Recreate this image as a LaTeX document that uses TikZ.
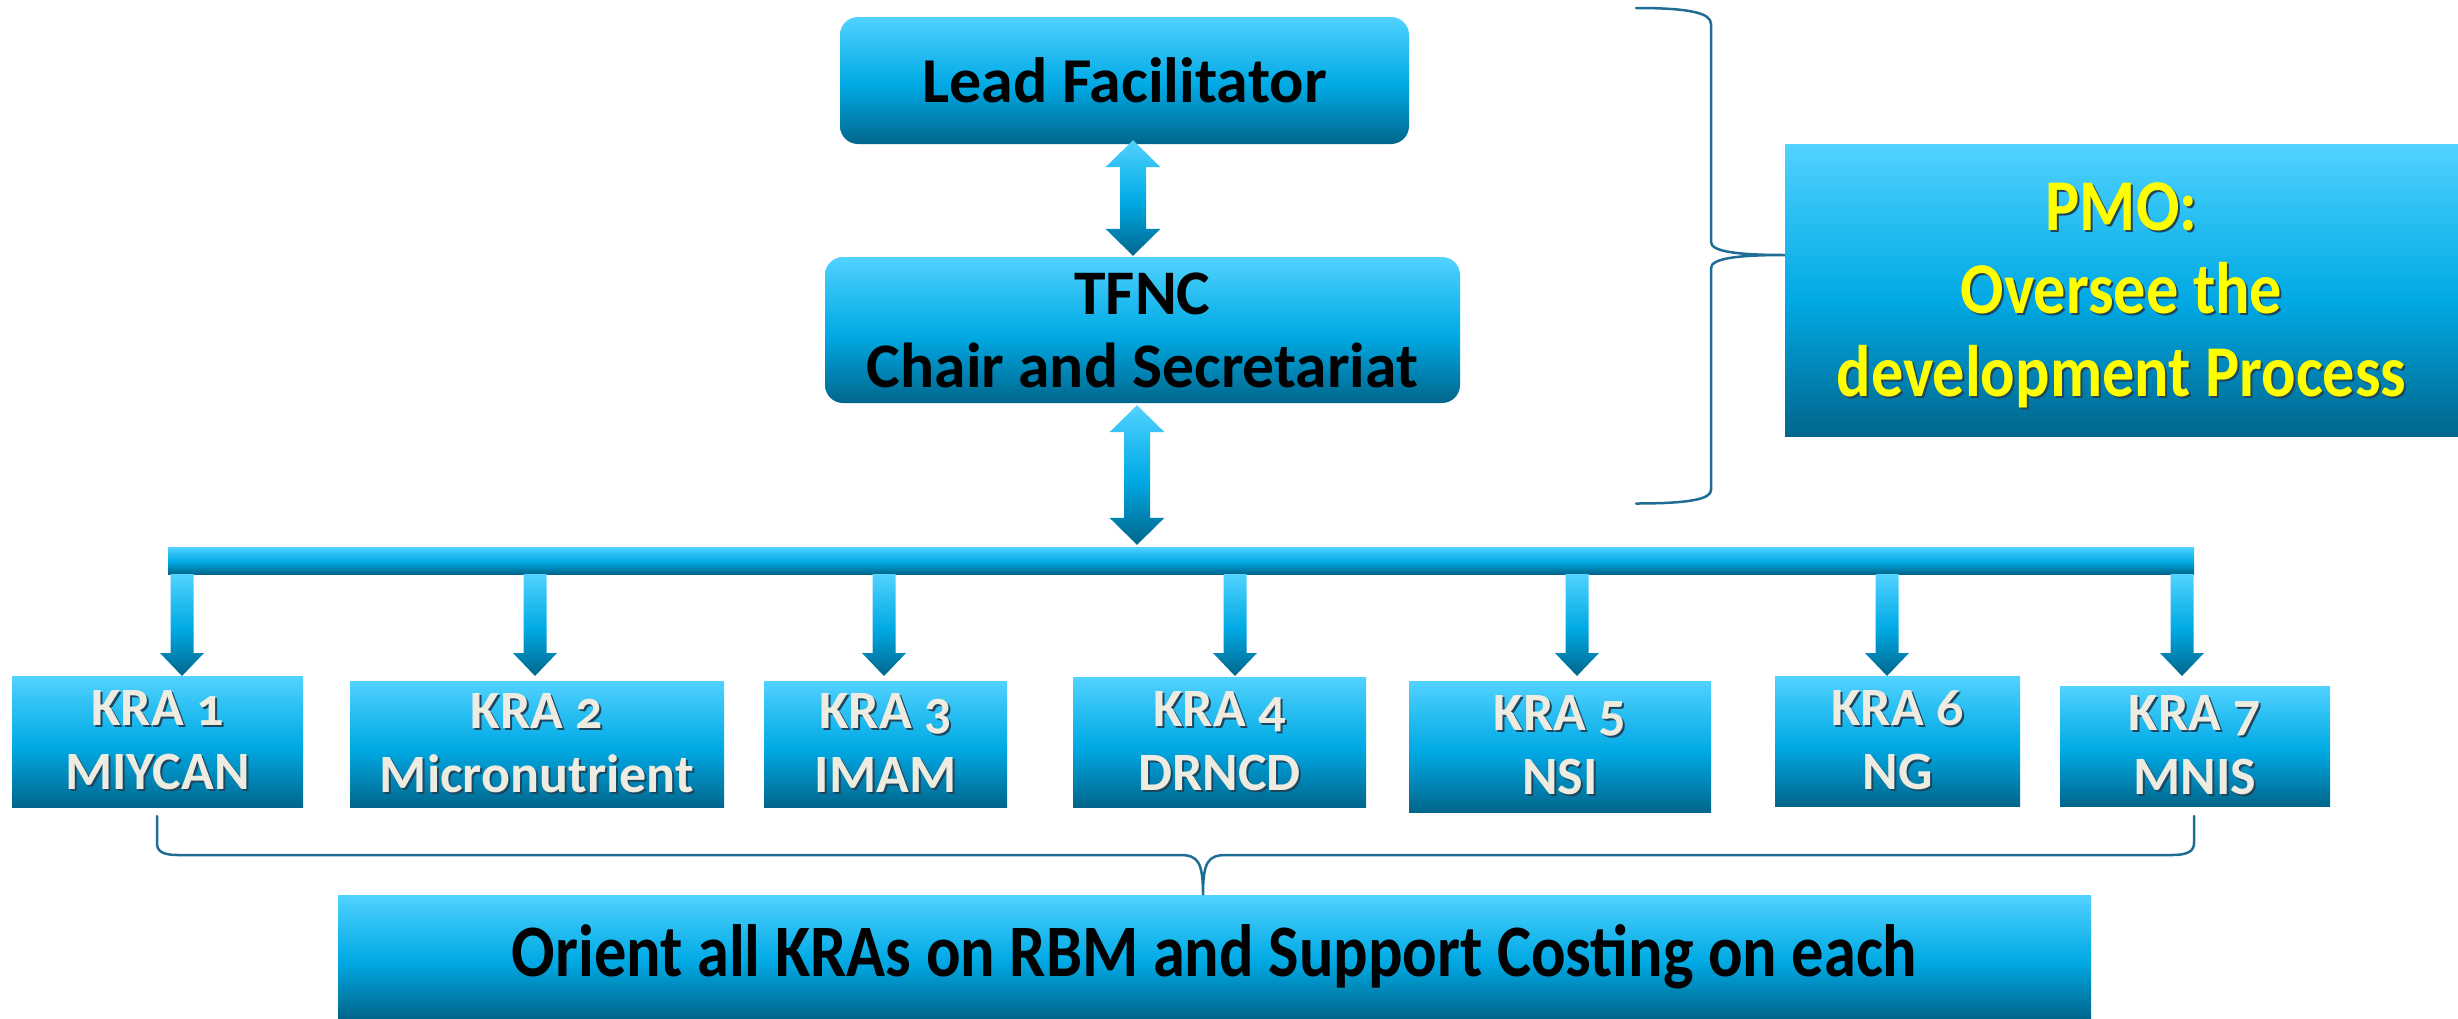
\documentclass[tikz,border=0pt]{standalone}
\usepackage{fontspec}
\setmainfont{Carlito}[Numbers=OldStyle]
\usetikzlibrary{calc}
\definecolor{gtop}{RGB}{82,210,255}
\definecolor{gup}{RGB}{40,190,242}
\definecolor{gmid}{RGB}{0,169,228}
\definecolor{gbot}{RGB}{0,102,140}
\definecolor{cream}{RGB}{238,236,225}
\definecolor{shadowc}{RGB}{30,70,95}
\definecolor{bracec}{RGB}{31,108,148}
\definecolor{pmoyel}{RGB}{255,255,0}
\pgfdeclareverticalshading{boxgrad}{100bp}{color(0bp)=(gbot); color(25bp)=(gbot); color(48bp)=(gmid); color(62bp)=(gup); color(75bp)=(gtop); color(100bp)=(gtop)}
\newcommand\shd[1]{\rlap{\kern2pt\raisebox{-2pt}{\textcolor{shadowc}{#1}}}#1}
\newcommand\sx[2]{\scalebox{#1}[1]{#2}}
\newcommand\dblarrow[2]{\path[grad] (#1) -- ($(#1)+(27.5,27)$) -- ($(#1)+(13,27)$) -- ($(#2)+(13,-27)$) -- ($(#2)+(27.5,-27)$) -- (#2) -- ($(#2)+(-27.5,-27)$) -- ($(#2)+(-13,-27)$) -- ($(#1)+(-13,27)$) -- ($(#1)+(-27.5,27)$) -- cycle;}
\newcommand\kradown[1]{\path[grad] ($(bar.south -| #1)+(-11.5,0)$) -- ($(bar.south -| #1)+(11.5,0)$) -- ($(#1)+(11.5,-23)$) -- ($(#1)+(22,-23)$) -- (#1) -- ($(#1)+(-22,-23)$) -- ($(#1)+(-11.5,-23)$) -- cycle;}
\tikzset{
  grad/.style={shade, shading=boxgrad, draw=none},
  box/.style={grad, inner sep=0pt, align=center, text=black},
  rbox/.style={box, rounded corners=18pt},
  kra/.style={box, text=cream, font=\fontsize{54}{64}\selectfont\bfseries},
  brace/.style={draw=bracec, line width=2.5pt, line cap=round},
}
\begin{document}
\begin{tikzpicture}[x=1pt,y=-1pt]
\useasboundingbox (0,0) rectangle (2458,1018);
% top boxes
\node[rbox, minimum width=569pt, minimum height=127pt, font=\fontsize{64}{74}\selectfont\bfseries] (lf) at (1124.5,80.5) {Lead Facilitator};
\node[rbox, minimum width=635pt, minimum height=146pt, font=\fontsize{63.5}{73}\selectfont\bfseries] (tfnc) at (1142.5,330) {TFNC\\Chair and Secretariat};
\node[box, minimum width=2026pt, minimum height=27pt] (bar) at (1181,560.5) {};
\node[box, minimum width=673pt, minimum height=292pt, text=pmoyel, font=\fontsize{73}{83}\selectfont\bfseries, text depth=0pt] (pmo) at (2121.5,290) {\shd{\sx{0.88}{PMO:}}\\\shd{\sx{0.88}{Oversee the}}\\\shd{\sx{0.88}{development Process}}};
% KRA boxes
\node[kra, minimum width=291pt, minimum height=131pt] (k1) at (157.5,741.5) {\shd{KRA 1}\\\shd{MIYCAN}};
\node[kra, minimum width=374pt, minimum height=126pt] (k2) at (537,744) {\shd{KRA 2}\\\shd{Micronutrient}};
\node[kra, minimum width=243pt, minimum height=126pt] (k3) at (885.5,744) {\shd{KRA 3}\\\shd{IMAM}};
\node[kra, minimum width=293pt, minimum height=130pt] (k4) at (1219.5,742) {\shd{KRA 4}\\\shd{DRNCD}};
\node[kra, minimum width=302pt, minimum height=131pt] (k5) at (1560,746.5) {\shd{KRA 5}\\\shd{NSI}};
\node[kra, minimum width=245pt, minimum height=130pt] (k6) at (1897.5,741) {\shd{KRA 6}\\\shd{NG}};
\node[kra, minimum width=270pt, minimum height=120pt] (k7) at (2195,746) {\shd{KRA 7}\\\shd{MNIS}};
% bottom box
\node[box, minimum width=1753pt, minimum height=123pt, font=\fontsize{74}{86}\selectfont\bfseries] (orient) at (1214.5,956.5) {\sx{0.87}{Orient all KRAs on RBM and Support Costing on each}};
% double arrows
\coordinate (a1t) at ($(lf.south)+(8.5,-4)$);
\coordinate (a1b) at ($(tfnc.north)+(-9.5,-1)$);
\coordinate (a2t) at ($(tfnc.south)+(-5.5,2)$);
\coordinate (a2b) at ($(bar.north)+(-44,-2)$);
\dblarrow{a1t}{a1b}
\dblarrow{a2t}{a2b}
% down arrows
\coordinate (t1) at (182,676);
\coordinate (t2) at (535,676);
\coordinate (t3) at (884,676);
\coordinate (t4) at (1235,676);
\coordinate (t5) at (1577,676);
\coordinate (t6) at (1887,676);
\coordinate (t7) at (2182,676);
\foreach \t in {t1,t2,t3,t4,t5,t6,t7} {\kradown{\t}}
% right brace
\coordinate (cusp) at (1785,255);
\draw[brace] (1636,8) .. controls (1690,8) and (1711,13) .. (1711,24) -- (1711,242)
  .. controls (1711,252) and (1740,255) .. (cusp)
  .. controls (1740,255) and (1711,258) .. (1711,268) -- (1711,490)
  .. controls (1711,499) and (1690,503.5) .. (1636,503.5);
% bottom brace
\coordinate (bcusp) at (1203,895);
\draw[brace] (157,816) -- (157,843) .. controls (157,851) and (162,855) .. (178,855) -- (1180,855)
  .. controls (1198,855) and (1203,862) .. (bcusp)
  .. controls (1203,862) and (1208,855) .. (1226,855) -- (2172,855)
  .. controls (2188,855) and (2194,851) .. (2194,843) -- (2194,816);
\end{tikzpicture}
\end{document}
